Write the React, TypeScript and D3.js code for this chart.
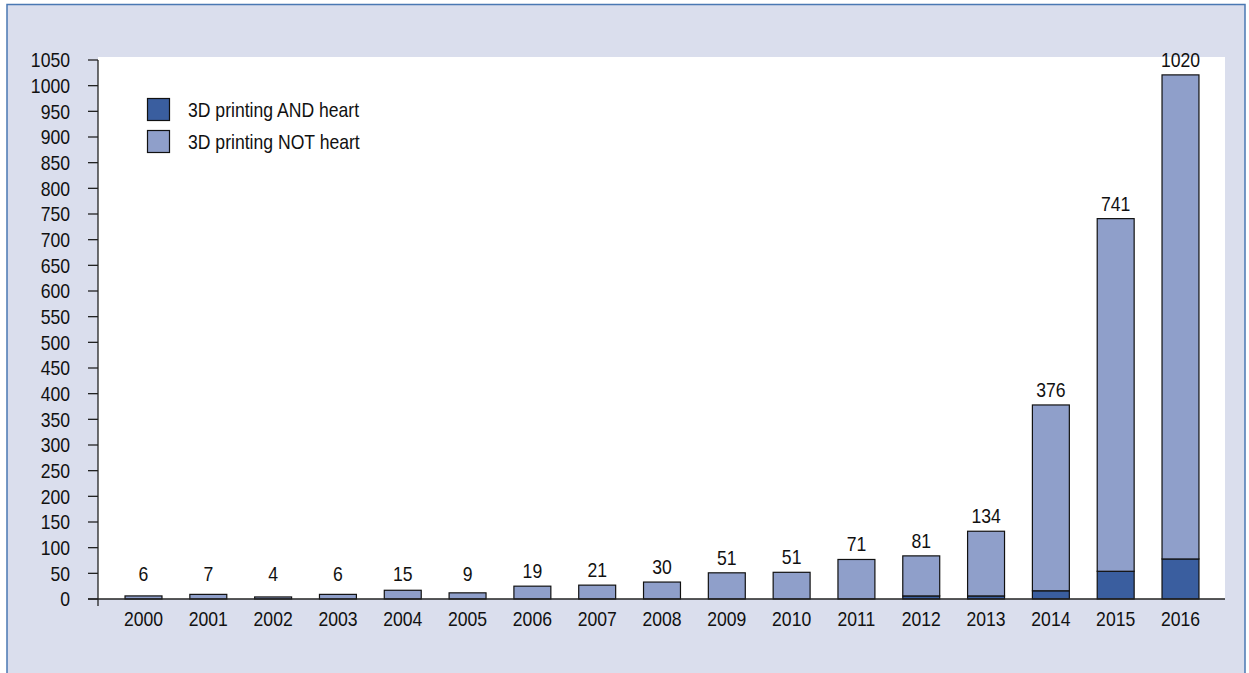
import React from "react";
import * as d3 from "d3";

const years = ["2000","2001","2002","2003","2004","2005","2006","2007","2008","2009","2010","2011","2012","2013","2014","2015","2016"];
const andHeart = [0,0,0,0,0,0,0,0,0,0,0,0,6,6,16,54,78];
const notHeart = [6,9,4,9,17,12,25,27,33,51,52,77,78,126,362,687,943];
const totalLabels = ["6","7","4","6","15","9","19","21","30","51","51","71","81","134","376","741","1020"];
const yTicks = d3.range(0, 1051, 50);
const legendItems = ["3D printing AND heart", "3D printing NOT heart"];

const W = 1249, H = 673;
const DARK = "#3a5e9f";
const LIGHT = "#8f9fca";
const BG = "#dadeed";
const BORDER = "#4a78b3";
const FONT = "'Liberation Sans', Arial, sans-serif";
const FS = 20;
const SX = 0.88;

function T({ x, y, anchor = "start", dy, children }: { x: number; y: number; anchor?: string; dy?: string; children: React.ReactNode }) {
  return (
    <g transform={`translate(${x},${y}) scale(${SX},1)`}>
      <text x={0} y={0} dy={dy} textAnchor={anchor} fontSize={FS} fill="#111">{children}</text>
    </g>
  );
}

export default function App() {
  const x = d3.scaleBand<string>().domain(years).range([111.1, 1212.9]).paddingInner(0.43).paddingOuter(0.215);
  const y = d3.scaleLinear().domain([0, 1050]).range([599, 60]);
  const bw = x.bandwidth();
  const colors = [DARK, LIGHT];
  return (
    <div style={{ position: "fixed", left: 0, top: 0 }}>
      <svg width={W} height={H} style={{ display: "block" }} fontFamily={FONT}>
        <rect x={0} y={0} width={W} height={H} fill="#ffffff" />
        <rect x={7} y={4.5} width={1238} height={H + 10} fill={BG} stroke={BORDER} strokeWidth={1.5} />
        <rect x={98} y={57} width={1127} height={542} fill="#ffffff" />
        {years.map((yr, i) => {
          const a = andHeart[i];
          const n = notHeart[i];
          const xs = x(yr)!;
          return (
            <g key={yr}>
              {a > 0 && (
                <rect x={xs} y={y(a)} width={bw} height={y(0) - y(a)} fill={DARK} stroke="#111" strokeWidth={1.2} />
              )}
              <rect x={xs} y={y(a + n)} width={bw} height={y(a) - y(a + n)} fill={LIGHT} stroke="#111" strokeWidth={1.2} />
              <T x={xs + bw / 2} y={Math.min(y(a + n) - 8, 581)} anchor="middle">{totalLabels[i]}</T>
              <T x={xs + bw / 2} y={625.5} anchor="middle">{yr}</T>
            </g>
          );
        })}
        <line x1={98} x2={98} y1={y(1050)} y2={606} stroke="#222" strokeWidth={1.3} />
        <line x1={88} x2={1225} y1={y(0)} y2={y(0)} stroke="#222" strokeWidth={1.3} />
        {yTicks.map((t) => (
          <g key={t}>
            <line x1={88} x2={98} y1={y(t)} y2={y(t)} stroke="#222" strokeWidth={1.3} />
            <T x={70} y={y(t)} dy="0.36em" anchor="end">{t}</T>
          </g>
        ))}
        {legendItems.map((lab, i) => (
          <g key={lab} transform={`translate(147.5, ${98.5 + i * 32})`}>
            <rect x={0} y={0} width={22} height={22} fill={colors[i]} stroke="#111" strokeWidth={1.2} />
            <T x={40.5} y={18.5}>{lab}</T>
          </g>
        ))}
      </svg>
    </div>
  );
}
